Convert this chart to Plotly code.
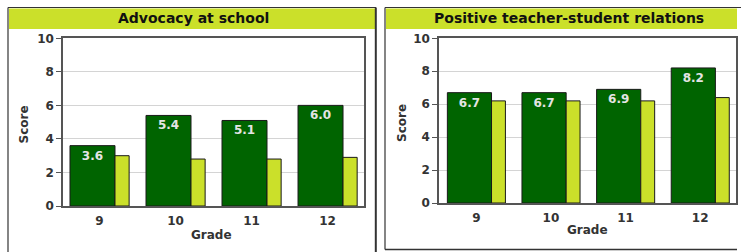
import plotly.graph_objects as go

# ---- data ----
grades = ["9", "10", "11", "12"]
advocacy_school = [3.6, 5.4, 5.1, 6.0]
advocacy_compare = [3.0, 2.8, 2.8, 2.9]
relations_school = [6.7, 6.7, 6.9, 8.2]
relations_compare = [6.2, 6.2, 6.2, 6.4]
panel_titles = ["Advocacy at school", "Positive teacher-student relations"]
y_ticks = [0, 2, 4, 6, 8, 10]

W, H = 741, 252
GREEN = "#006400"
YELLOW = "#cbe02a"
FONT = "DejaVu Sans, Verdana, sans-serif"

def px(x):
    return x / W

def py(y):
    return 1 - y / H

pos = list(range(len(grades)))

fig = go.Figure()

def add_panel(idx, school, compare):
    xa = "x" if idx == 0 else "x2"
    ya = "y" if idx == 0 else "y2"
    fig.add_trace(go.Bar(
        x=pos, y=school, xaxis=xa, yaxis=ya,
        offset=-0.388, width=0.592,
        marker=dict(color=GREEN, line=dict(color="#1a1a1a", width=1)),
        text=[f"{v:.1f}" for v in school],
        textposition="inside", insidetextanchor="end",
        textfont=dict(family=FONT, size=12, color="#e4e4e4", weight="bold"),
        cliponaxis=False, showlegend=False, hoverinfo="skip",
    ))
    fig.add_trace(go.Bar(
        x=pos, y=compare, xaxis=xa, yaxis=ya,
        offset=0.204, width=0.186,
        marker=dict(color=YELLOW, line=dict(color="#1a1a1a", width=1)),
        showlegend=False, hoverinfo="skip",
    ))

add_panel(0, advocacy_school, advocacy_compare)
add_panel(1, relations_school, relations_compare)

axis_common = dict(
    showline=True, linecolor="#555555", linewidth=1.5, mirror=True,
    automargin=False,
)
xcommon = dict(
    tickvals=pos, ticktext=grades, showgrid=False, zeroline=False,
    tickfont=dict(family=FONT, size=12, color="#333333", weight="bold"),
    ticks="outside", ticklen=3, tickcolor="rgba(0,0,0,0)",
    **axis_common,
)
ycommon = dict(
    range=[0, 10], tickvals=y_ticks, showgrid=True, gridcolor="#d4d4d4",
    gridwidth=1, zeroline=False, ticks="outside", ticklen=5,
    tickcolor="#555555",
    tickfont=dict(family=FONT, size=12, color="#333333", weight="bold"),
    **axis_common,
)

fig.update_layout(
    width=W, height=H, autosize=False,
    margin=dict(l=0, r=0, t=0, b=0, pad=0),
    paper_bgcolor="white", plot_bgcolor="white",
    barmode="overlay",
    xaxis=dict(domain=[px(63), px(364)], range=[-0.48, 3.48], anchor="y", **xcommon),
    yaxis=dict(domain=[py(206), py(38.3)], anchor="x", **ycommon),
    xaxis2=dict(domain=[px(439), px(736)], range=[-0.5, 3.48], anchor="y2", **xcommon),
    yaxis2=dict(domain=[py(203), py(38.3)], anchor="x2", **ycommon),
)

shapes = []
# title bars
shapes.append(dict(type="rect", xref="paper", yref="paper",
                   x0=px(9), x1=px(375), y0=py(29), y1=py(8.5),
                   fillcolor=YELLOW, line=dict(width=0), layer="below"))
shapes.append(dict(type="rect", xref="paper", yref="paper",
                   x0=px(386), x1=px(737), y0=py(29), y1=py(8.5),
                   fillcolor=YELLOW, line=dict(width=0), layer="below"))
# left panel border (left, top, right)
border = dict(color="#333333", width=1.2)
shapes.append(dict(type="line", xref="paper", yref="paper",
                   x0=px(8), x1=px(8), y0=py(7.5), y1=py(252), line=border))
shapes.append(dict(type="line", xref="paper", yref="paper",
                   x0=px(8), x1=px(376), y0=py(7.5), y1=py(7.5), line=border))
shapes.append(dict(type="line", xref="paper", yref="paper",
                   x0=px(375.8), x1=px(375.8), y0=py(7.5), y1=py(252),
                   line=dict(color="#333333", width=2)))
# right panel border (left, top, bottom)
shapes.append(dict(type="line", xref="paper", yref="paper",
                   x0=px(385), x1=px(385), y0=py(7.5), y1=py(249.5), line=border))
shapes.append(dict(type="line", xref="paper", yref="paper",
                   x0=px(385), x1=px(741), y0=py(7.5), y1=py(7.5), line=border))
shapes.append(dict(type="line", xref="paper", yref="paper",
                   x0=px(385), x1=px(737), y0=py(249.5), y1=py(249.5),
                   line=dict(color="#333333", width=1.5)))
fig.update_layout(shapes=shapes)

ann_font_title = dict(family=FONT, size=14, color="#111111", weight="bold")
ann_font_axis = dict(family=FONT, size=12, color="#333333", weight="bold")
annotations = [
    dict(text=panel_titles[0], x=px(193), y=py(18.5), xref="paper", yref="paper",
         showarrow=False, font=ann_font_title, xanchor="center", yanchor="middle"),
    dict(text=panel_titles[1], x=px(569), y=py(18.5), xref="paper", yref="paper",
         showarrow=False, font=ann_font_title, xanchor="center", yanchor="middle"),
    dict(text="Score", x=px(23.5), y=py(125), xref="paper", yref="paper",
         showarrow=False, font=ann_font_axis, textangle=-90,
         xanchor="center", yanchor="middle"),
    dict(text="Score", x=px(402), y=py(123), xref="paper", yref="paper",
         showarrow=False, font=ann_font_axis, textangle=-90,
         xanchor="center", yanchor="middle"),
    dict(text="Grade", x=px(212), y=py(235), xref="paper", yref="paper",
         showarrow=False, font=ann_font_axis, xanchor="center", yanchor="middle"),
    dict(text="Grade", x=px(587), y=py(230), xref="paper", yref="paper",
         showarrow=False, font=ann_font_axis, xanchor="center", yanchor="middle"),
]
fig.update_layout(annotations=annotations)

fig.write_html(
    "out.html",
    config={"displayModeBar": False},
    post_script="document.body.style.margin='0';document.body.style.overflow='hidden';",
)
